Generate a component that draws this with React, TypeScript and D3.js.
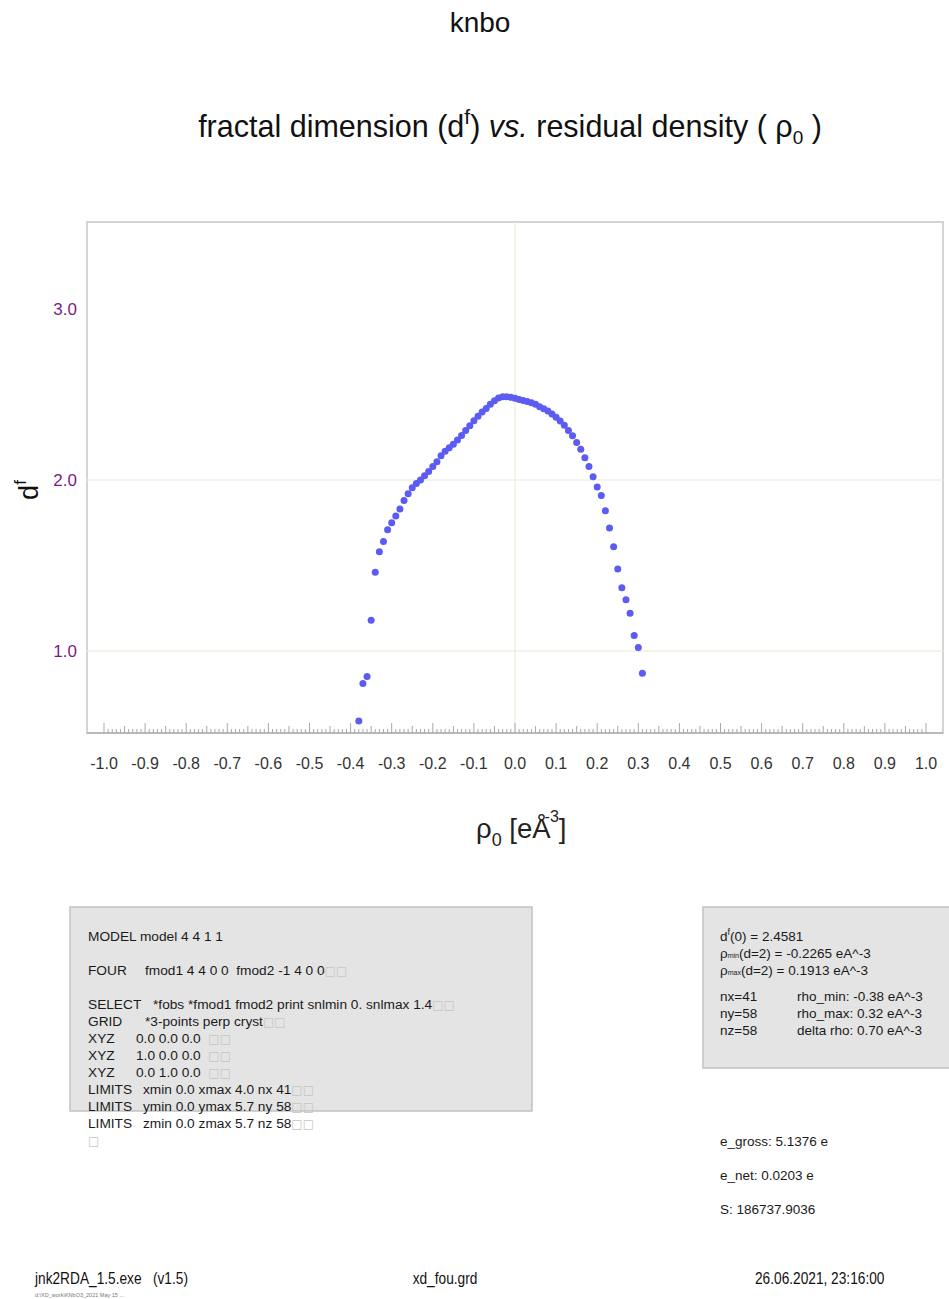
import React from "react";
import * as d3 from "d3";

const rho0: number[] = [
  -0.38, -0.37, -0.36, -0.35, -0.34, -0.33, -0.32, -0.31, -0.30, -0.29,
  -0.28, -0.27, -0.26, -0.25, -0.24, -0.23, -0.22, -0.21, -0.20, -0.19,
  -0.18, -0.17, -0.16, -0.15, -0.14, -0.13, -0.12, -0.11, -0.10, -0.09,
  -0.08, -0.07, -0.06, -0.05, -0.04, -0.03, -0.02, -0.01, 0.00, 0.01,
  0.02, 0.03, 0.04, 0.05, 0.06, 0.07, 0.08, 0.09, 0.10, 0.11,
  0.12, 0.13, 0.14, 0.15, 0.16, 0.17, 0.18, 0.19, 0.20, 0.21,
  0.22, 0.23, 0.24, 0.25, 0.26, 0.27, 0.28, 0.29, 0.30, 0.31,
];
const df: number[] = [
  0.59, 0.81, 0.85, 1.18, 1.46, 1.58, 1.64, 1.71, 1.75, 1.79,
  1.83, 1.88, 1.92, 1.955, 1.98, 2.0, 2.025, 2.05, 2.08, 2.107,
  2.142, 2.168, 2.189, 2.209, 2.234, 2.261, 2.29, 2.318, 2.347, 2.374,
  2.398, 2.419, 2.444, 2.464, 2.48, 2.487, 2.487, 2.484, 2.478, 2.472,
  2.466, 2.46, 2.452, 2.443, 2.429, 2.418, 2.404, 2.386, 2.368, 2.345,
  2.32, 2.29, 2.26, 2.22, 2.18, 2.13, 2.08, 2.02, 1.96, 1.91,
  1.82, 1.72, 1.61, 1.48, 1.37, 1.30, 1.22, 1.09, 1.02, 0.87,
];
const xTickValues: number[] = [-1.0, -0.9, -0.8, -0.7, -0.6, -0.5, -0.4, -0.3, -0.2, -0.1, 0.0, 0.1, 0.2, 0.3, 0.4, 0.5, 0.6, 0.7, 0.8, 0.9, 1.0];
const yTickValues: number[] = [1.0, 2.0, 3.0];
const yGridValues: number[] = [1.0, 2.0];

const modelLines: { label: string; text: string; tofu: string; gap: number }[] = [
  { label: "MODEL", text: " model 4 4 1 1", tofu: "", gap: 0 },
  { label: "FOUR", text: "fmod1 4 4 0 0\u00a0\u00a0fmod2 -1 4 0 0", tofu: "□□", gap: 34 },
  { label: "SELECT", text: "*fobs *fmod1 fmod2 print snlmin 0. snlmax 1.4", tofu: "□□", gap: 34 },
  { label: "GRID", text: "*3-points perp cryst", tofu: "□□", gap: 17 },
  { label: "XYZ", text: "0.0 0.0 0.0\u00a0\u00a0", tofu: "□□", gap: 17 },
  { label: "XYZ", text: "1.0 0.0 0.0\u00a0\u00a0", tofu: "□□", gap: 17 },
  { label: "XYZ", text: "0.0 1.0 0.0\u00a0\u00a0", tofu: "□□", gap: 17 },
  { label: "LIMITS", text: "xmin 0.0 xmax 4.0 nx 41", tofu: "□□", gap: 17 },
  { label: "LIMITS", text: "ymin 0.0 ymax 5.7 ny 58", tofu: "□□", gap: 17 },
  { label: "LIMITS", text: "zmin 0.0 zmax 5.7 nz 58", tofu: "□□", gap: 17 },
  { label: "", text: "", tofu: "□", gap: 17 },
];
const gridInfo: string[] = ["nx=41", "ny=58", "nz=58"];
const rhoInfo: string[] = ["rho_min: -0.38 eA^-3", "rho_max: 0.32 eA^-3", "delta rho: 0.70 eA^-3"];
const electronInfo: string[] = ["e_gross: 5.1376 e", "e_net: 0.0203 e", "S: 186737.9036"];

const FONT = "'Liberation Sans', Arial, Helvetica, sans-serif";

export default function App() {
  const left = 87, right = 943, top = 222, bottom = 733;
  const x = d3.scaleLinear().domain([-1, 1]).range([104, 926]);
  const y = d3.scaleLinear().domain([0.52, 3.51]).range([bottom, top]);
  const minor = d3.range(0, 201).map((i) => -1 + i * 0.01);
  const points = rho0.map((r, i) => ({ r, d: df[i] }));

  let yy = 941;
  const modelY = modelLines.map((l, i) => {
    if (i > 0) yy += l.gap;
    return yy;
  });

  const footer = (txt: string, px: number, anchor: string = "start") => (
    <text
      transform={`translate(${px},1284) scale(0.83,1)`}
      textAnchor={anchor}
      fontFamily={FONT}
      fontSize={16.5}
      fill="#111"
    >
      {txt}
    </text>
  );

  return (
    <div style={{ position: "absolute", left: 0, top: 0 }}>
      <svg width={949} height={1299} style={{ display: "block", background: "#fff" }}>
        <text x={480} y={32} textAnchor="middle" fontFamily={FONT} fontSize={28} fill="#111">knbo</text>
        <text x={510} y={137} textAnchor="middle" fontFamily={FONT} fontSize={30.5} fill="#111">
          fractal dimension (d<tspan fontSize={21} dy={-13}>f</tspan><tspan dy={13}>) </tspan>
          <tspan fontStyle="italic">vs.</tspan> residual density ( ρ<tspan fontSize={19} dy={7}>0</tspan><tspan dy={-7}> )</tspan>
        </text>

        {/* plot frame */}
        <rect x={left} y={top} width={right - left} height={bottom - top} fill="#fff" stroke="#d4d4d4" strokeWidth={2} />
        {yGridValues.map((v) => (
          <line key={v} x1={left} x2={right} y1={y(v)} y2={y(v)} stroke="#f1f0e2" strokeWidth={1.5} />
        ))}
        <line x1={x(0)} x2={x(0)} y1={top} y2={bottom} stroke="#eef0dc" strokeWidth={1.5} />

        {/* bottom axis */}
        <line x1={left} x2={right} y1={bottom} y2={bottom} stroke="#b0b0b0" strokeWidth={1.5} />
        {minor.map((v, i) => {
          const len = i % 10 === 0 ? 10 : i % 5 === 0 ? 7 : 4;
          return <line key={i} x1={x(v)} x2={x(v)} y1={bottom} y2={bottom - len} stroke="#a8a8a8" strokeWidth={1} />;
        })}
        {xTickValues.map((v) => (
          <text key={v} x={x(v)} y={769} textAnchor="middle" fontFamily={FONT} fontSize={16} fill="#333">{v.toFixed(1)}</text>
        ))}
        {yTickValues.map((v) => (
          <text key={v} x={77} y={y(v) + 6} textAnchor="end" fontFamily={FONT} fontSize={17} fill="#7a1a86">{v.toFixed(1)}</text>
        ))}

        {/* axis titles */}
        <text transform="translate(38,490) rotate(-90)" textAnchor="middle" fontFamily={FONT} fontSize={27} fill="#111">
          d<tspan fontSize={17} dy={-12}>f</tspan>
        </text>
        <text x={476} y={838} fontFamily={FONT} fontSize={27.5} fill="#222">
          ρ<tspan fontSize={18} dy={8}>0</tspan><tspan dy={-8}> [eÅ</tspan><tspan fontSize={16} dx={-6} dy={-16}>-3</tspan><tspan dy={16}>]</tspan>
        </text>

        {/* data points */}
        {points.map((p, i) => (
          <circle key={i} cx={x(p.r)} cy={y(p.d)} r={3.5} fill="#5c5cf2" />
        ))}

        {/* model box */}
        <rect x={70} y={907} width={462} height={204} fill="#e4e4e4" stroke="#c2c2c2" strokeWidth={1.5} />
        {modelLines.map((l, i) => {
          const indent = l.label === "MODEL" ? 0 : l.label === "FOUR" ? 57 : l.label === "SELECT" ? 65 : l.label === "GRID" ? 57 : l.label === "XYZ" ? 48 : l.label === "LIMITS" ? 55 : 0;
          return (
            <text key={i} x={88} y={modelY[i]} fontFamily={FONT} fontSize={13.7} fill="#1a1a1a">
              {l.label === "MODEL" ? (
                <tspan>{l.label + l.text}</tspan>
              ) : (
                <>
                  <tspan>{l.label}</tspan>
                  <tspan x={88 + indent}>{l.text}</tspan>
                </>
              )}
              {l.tofu && <tspan fill="#c4c4c4" fontFamily="'DejaVu Sans', sans-serif" fontSize={12}>{l.tofu}</tspan>}
            </text>
          );
        })}

        {/* summary box */}
        <rect x={703} y={907} width={250} height={161} fill="#e4e4e4" stroke="#c2c2c2" strokeWidth={1.5} />
        <text x={720} y={941} fontFamily={FONT} fontSize={13.5} fill="#1a1a1a">
          d<tspan fontSize={9} dy={-6}>f</tspan><tspan dy={6}>(0) = 2.4581</tspan>
        </text>
        <text x={720} y={958} fontFamily={FONT} fontSize={13.5} fill="#1a1a1a">
          ρ<tspan fontSize={7}>min</tspan>(d=2) = -0.2265 eA^-3
        </text>
        <text x={720} y={975} fontFamily={FONT} fontSize={13.5} fill="#1a1a1a">
          ρ<tspan fontSize={7}>max</tspan>(d=2) = 0.1913 eA^-3
        </text>
        {gridInfo.map((g, i) => (
          <text key={g} x={720} y={1001 + i * 17} fontFamily={FONT} fontSize={13.5} fill="#1a1a1a">{g}</text>
        ))}
        {rhoInfo.map((g, i) => (
          <text key={g} x={797} y={1001 + i * 17} fontFamily={FONT} fontSize={13.5} fill="#1a1a1a">{g}</text>
        ))}
        {electronInfo.map((g, i) => (
          <text key={g} x={720} y={1146 + i * 34} fontFamily={FONT} fontSize={13.5} fill="#1a1a1a">{g}</text>
        ))}

        {/* footer */}
        {footer("jnk2RDA_1.5.exe\u00a0\u00a0\u00a0(v1.5)", 35)}
        {footer("xd_fou.grd", 445, "middle")}
        {footer("26.06.2021, 23:16:00", 755)}
        <text x={35} y={1297} fontFamily={FONT} fontSize={5.5} fill="#777">d:\XD_work\KNbO3_2021 May 15 ...</text>
      </svg>
    </div>
  );
}
